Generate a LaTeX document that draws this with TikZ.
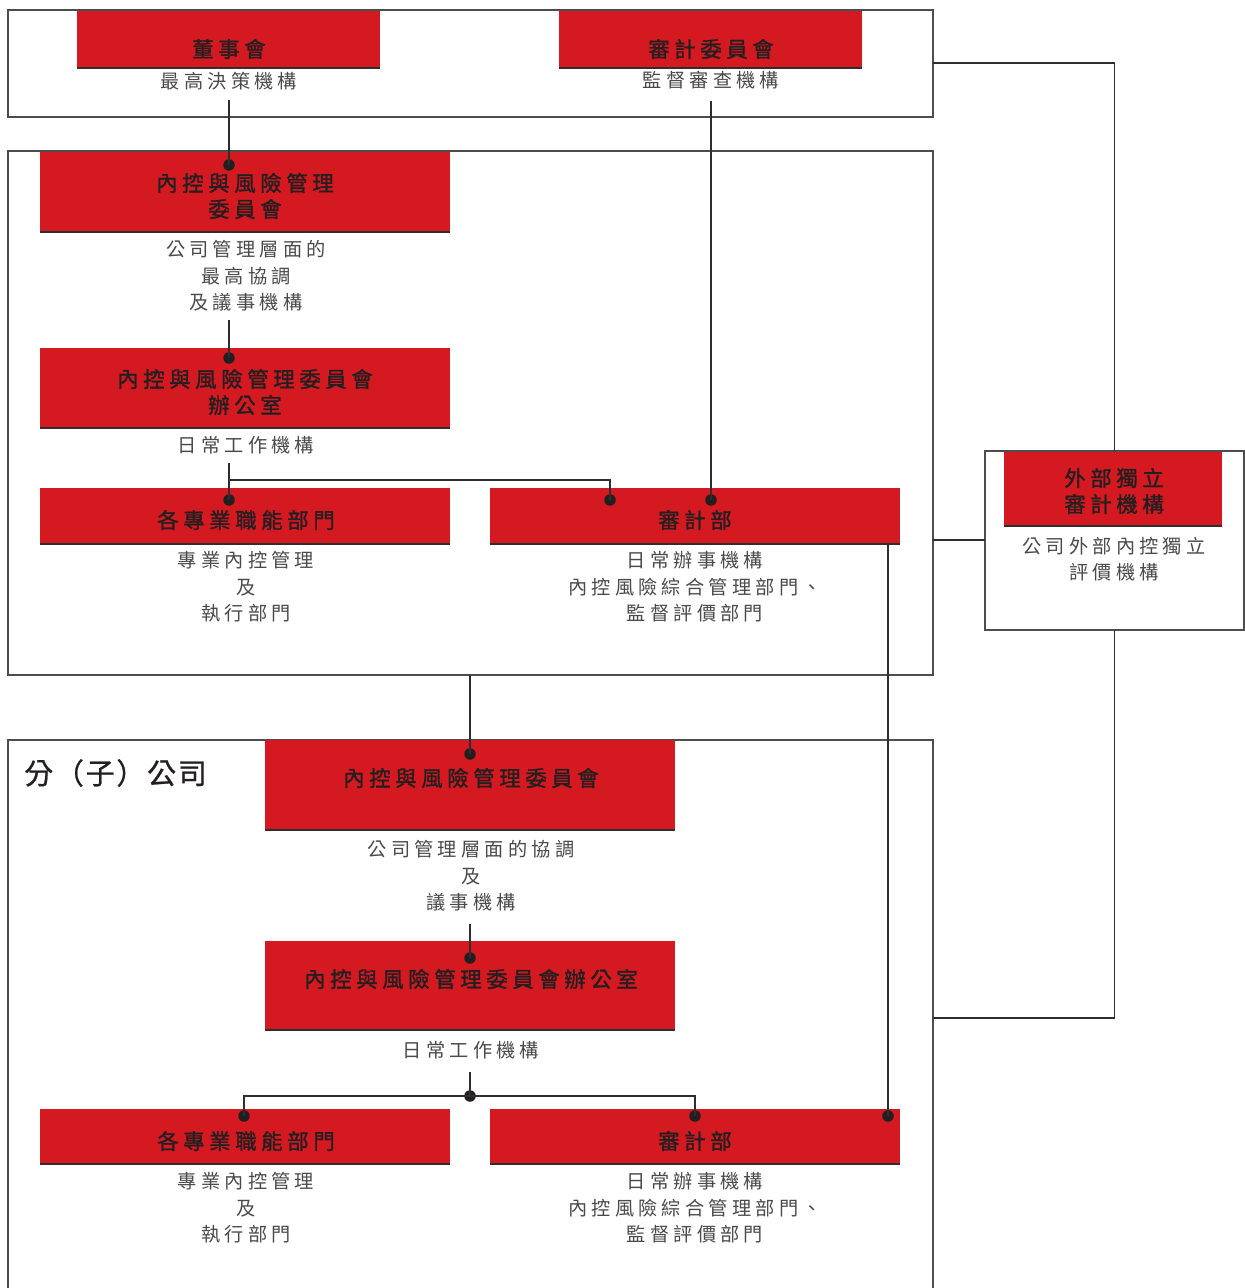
\documentclass[tikz,border=0pt]{standalone}
\usepackage{fontspec}
\newfontfamily\cjk[LetterSpace=22]{Noto Sans CJK TC}
\newfontfamily\cjkb[LetterSpace=21,FakeBold=1.4]{Noto Sans CJK TC}
\newfontfamily\cjkh[LetterSpace=6,FakeBold=0.8]{Noto Sans CJK TC}
\definecolor{boxred}{HTML}{D51920}
\definecolor{titledark}{HTML}{231F20}
\definecolor{subgray}{HTML}{4A4A4A}
\definecolor{framegray}{HTML}{4D4D4D}
\definecolor{linedark}{HTML}{2E2E2E}
\tikzset{
  x=1pt,y=-1pt,
  frame/.style={draw=framegray, line width=1.5pt, inner sep=0pt, outer sep=0pt},
  redbox/.style={fill=boxred, inner sep=0pt, outer sep=0pt},
  redline/.style={draw=linedark, line width=1.6pt},
  ttl/.style={font=\cjkb\fontsize{21.5}{26}\selectfont, text=titledark, align=center, inner sep=0pt},
  sub/.style={font=\cjk\fontsize{19.2}{26.5}\selectfont, text=subgray, align=center, inner sep=0pt},
  conn/.style={draw=linedark, line width=1.3pt},
  dotnode/.style={circle, fill=titledark, minimum size=11.5pt, inner sep=0pt},
}
\begin{document}
\begin{tikzpicture}
\useasboundingbox (0,0) rectangle (1245,1288);
\fill[white] (0,0) rectangle (1245,1288);

% ---------- frames ----------
\node[frame, minimum width=925pt, minimum height=107pt] (f1) at (470.5,63.5) {};
\node[frame, minimum width=925pt, minimum height=524pt] (f2) at (470.5,413) {};
\node[frame, minimum width=259pt, minimum height=179pt] (ext) at (1114.5,540.5) {};
\draw[draw=framegray, line width=1.5pt] (8,1295) -- (8,740) -- (933,740) -- (933,1295);
\coordinate (f3ne) at (933,740);

% ---------- top section ----------
\node[redbox, minimum width=303pt, minimum height=57pt] (r1) at (228.5,39.5) {};
\draw[redline] (r1.south west) -- (r1.south east);
\node[ttl] (t1) at (229,49) {董事會};
\node[sub] (s1) at (229,81) {最高決策機構};

\node[redbox, minimum width=303pt, minimum height=57pt] (r2) at (710.5,39.5) {};
\draw[redline] (r2.south west) -- (r2.south east);
\node[ttl] (t2) at (711,49) {審計委員會};
\node[sub] (s2) at (711,80) {監督審查機構};

% ---------- group section ----------
\node[redbox, minimum width=410pt, minimum height=80pt] (r3) at (245,192) {};
\draw[redline] (r3.south west) -- (r3.south east);
\node[ttl] (t3) at (245,196) {內控與風險管理\\委員會};
\node[sub] (s3) at (246,276) {公司管理層面的\\最高協調\\及議事機構};

\node[redbox, minimum width=410pt, minimum height=80pt] (r4) at (245,388) {};
\draw[redline] (r4.south west) -- (r4.south east);
\node[ttl] (t4) at (245,392) {內控與風險管理委員會\\辦公室};
\node[sub] (s4) at (246,445) {日常工作機構};

\node[redbox, minimum width=410pt, minimum height=56pt] (r5) at (245,516) {};
\draw[redline] (r5.south west) -- (r5.south east);
\node[ttl] (t5) at (246,520) {各專業職能部門};
\node[sub] (s5) at (246,587) {專業內控管理\\及\\執行部門};

\node[redbox, minimum width=410pt, minimum height=56pt] (r6) at (695,516) {};
\draw[redline] (r6.south west) -- (r6.south east);
\node[ttl] (t6) at (695,520) {審計部};
\node[sub] (s6) at (695,587) {日常辦事機構\\內控風險綜合管理部門、\\監督評價部門};

% ---------- external ----------
\node[redbox, minimum width=218pt, minimum height=74pt] (r7) at (1113,489) {};
\draw[redline] (r7.south west) -- (r7.south east);
\node[ttl] (t7) at (1114,491) {外部獨立\\審計機構};
\node[sub] (s7) at (1114,559) {公司外部內控獨立\\評價機構};

% ---------- subsidiary section ----------
\node[font=\cjkh\fontsize{29}{32}\selectfont, text=titledark, anchor=west, inner sep=0pt] (lab) at (24,773) {分（子）公司};

\node[redbox, minimum width=410pt, minimum height=90pt] (r8) at (470,785) {};
\draw[redline] (r8.south west) -- (r8.south east);
\node[ttl] (t8) at (471,778) {內控與風險管理委員會};
\node[sub] (s8) at (471,876) {公司管理層面的協調\\及\\議事機構};

\node[redbox, minimum width=410pt, minimum height=89pt] (r9) at (470,985.5) {};
\draw[redline] (r9.south west) -- (r9.south east);
\node[ttl] (t9) at (471,979) {內控與風險管理委員會辦公室};
\node[sub] (s9) at (471,1050) {日常工作機構};

\node[redbox, minimum width=410pt, minimum height=55pt] (r10) at (245,1136.5) {};
\draw[redline] (r10.south west) -- (r10.south east);
\node[ttl] (t10) at (246,1141) {各專業職能部門};
\node[sub] (s10) at (246,1208) {專業內控管理\\及\\執行部門};

\node[redbox, minimum width=410pt, minimum height=55pt] (r11) at (695,1136.5) {};
\draw[redline] (r11.south west) -- (r11.south east);
\node[ttl] (t11) at (695,1141) {審計部};
\node[sub] (s11) at (695,1208) {日常辦事機構\\內控風險綜合管理部門、\\監督評價部門};

% ---------- connector endpoints ----------
\coordinate (c1) at (229,100);
\coordinate (c2) at (229,320);
\coordinate (c3) at (229,463);
\coordinate (c3h) at (229,480);
\coordinate (c5) at (711,101);
\coordinate (c8) at (470,924);
\coordinate (c9) at (470,1072);
\coordinate (c11) at (888,544);
\coordinate (f1e) at (933,63);
\coordinate (f2e) at (933,540);
\coordinate (f2s) at (470,675);
\coordinate (f3e) at (933,1018);

% ---------- dots ----------
\node[dotnode] (d1) at (229,165) {};
\node[dotnode] (d2) at (229,358) {};
\node[dotnode] (d3) at (229,500) {};
\node[dotnode] (d4) at (610,500) {};
\node[dotnode] (d5) at (711,500) {};
\node[dotnode] (d6) at (470,754) {};
\node[dotnode] (d7) at (470,958) {};
\node[dotnode] (d8) at (470,1096) {};
\node[dotnode] (d9) at (244,1116) {};
\node[dotnode] (d10) at (695,1116) {};
\node[dotnode] (d11) at (888,1116) {};

% ---------- connectors ----------
\draw[conn] (c1) -- (d1.center);
\draw[conn] (c2) -- (d2.center);
\draw[conn] (c3) -- (d3.center);
\draw[conn] (c3h) -- (d4.center |- c3h) -- (d4.center);
\draw[conn] (c5) -- (d5.center);
\draw[conn] (f1e) -- (ext.north |- f1e) -- (ext.north);
\draw[conn] (f2e) -- (ext.west |- f2e);
\draw[conn] (ext.south) -- (ext.south |- f3e) -- (f3e);
\draw[conn] (f2s) -- (d6.center);
\draw[conn] (c8) -- (d7.center);
\draw[conn] (c9) -- (d8.center);
\draw[conn] (d9.center) -- (d9.center |- d8.center) -- (d10.center |- d8.center) -- (d10.center);
\draw[conn] (c11) -- (d11.center);
\end{tikzpicture}
\end{document}
